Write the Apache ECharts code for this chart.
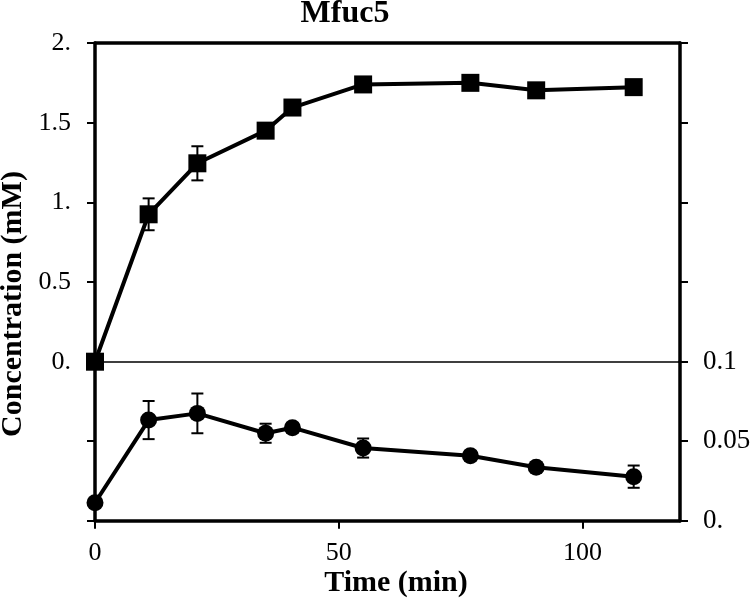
<!DOCTYPE html>
<html>
<head>
<meta charset="utf-8">
<script src="https://cdn.jsdelivr.net/npm/echarts@6/dist/echarts.min.js"></script>
<style>html,body{margin:0;padding:0;background:#fff;}#c{width:751px;height:601px;}</style>
</head>
<body>
<div id="c"></div>
<script>
const timeMin = [0, 11, 21, 35, 40.5, 55, 77, 90.5, 110.5];
const upperValues = [0, 0.925, 1.245, 1.45, 1.595, 1.74, 1.75, 1.703, 1.723];
const upperErrors = [0, 0.1, 0.107, 0.02, 0.02, 0.02, 0.02, 0.03, 0.02];
const lowerValues = [0.0113, 0.0633, 0.0675, 0.055, 0.0585, 0.0457, 0.0409, 0.0336, 0.0277];
const lowerErrors = [0, 0.012, 0.0125, 0.006, 0.003, 0.006, 0.003, 0.003, 0.007];
const upperTickLabels = ['0.', '0.5', '1.', '1.5', '2.'];
const lowerTickLabels = ['0.', '0.05', '0.1'];
const xTickValues = [0, 50, 100];
const xTickLabels = ['0', '50', '100'];

const FONT = 'Liberation Serif';
const TICK_FS = 26;
const NAME_FS = 30;

const chart = echarts.init(document.getElementById('c'), null, {renderer: 'canvas'});

function errRender(params, api) {
  const x = api.value(0), y = api.value(1), e = api.value(2);
  if (!e) return null;
  const hi = api.coord([x, y + e]);
  const lo = api.coord([x, y - e]);
  const cap = 6;
  const st = {stroke: '#000', lineWidth: 2};
  return {
    type: 'group',
    children: [
      {type: 'line', shape: {x1: hi[0], y1: hi[1], x2: lo[0], y2: lo[1]}, style: st},
      {type: 'line', shape: {x1: hi[0] - cap, y1: hi[1], x2: hi[0] + cap, y2: hi[1]}, style: st},
      {type: 'line', shape: {x1: lo[0] - cap, y1: lo[1], x2: lo[0] + cap, y2: lo[1]}, style: st}
    ]
  };
}

function thickLine() { return {show: true, onZero: false, lineStyle: {color: '#000', width: 3.5}}; }
function tickOut(extra) { return Object.assign({show: true, inside: false, length: 8, lineStyle: {color: '#000', width: 2}}, extra || {}); }
function labelStyle(extra) { return Object.assign({color: '#000', fontFamily: FONT, fontSize: TICK_FS}, extra || {}); }

const upperPts = timeMin.map((t, i) => [t, upperValues[i], upperErrors[i]]);
const lowerPts = timeMin.map((t, i) => [t, lowerValues[i], lowerErrors[i]]);

function textStyle(txt, size) {
  return {text: txt, fill: '#000', fontFamily: FONT, fontWeight: 'bold', fontSize: size,
    textAlign: 'center', textVerticalAlign: 'middle'};
}

const option = {
  backgroundColor: '#fff',
  animation: false,
  grid: [
    {left: 95, top: 43, width: 585, height: 318.7, containLabel: false, outerBoundsMode: 'none'},
    {left: 95, top: 361.7, width: 585, height: 159, containLabel: false, outerBoundsMode: 'none'}
  ],
  xAxis: [
    {gridIndex: 0, type: 'value', min: 0, max: 120, position: 'bottom',
     axisLine: {show: true, onZero: false, lineStyle: {color: '#000', width: 1.5}},
     axisTick: {show: false}, axisLabel: {show: false}, splitLine: {show: false}},
    {gridIndex: 0, type: 'value', min: 0, max: 120, position: 'top',
     axisLine: thickLine(), axisTick: {show: false}, axisLabel: {show: false}, splitLine: {show: false}},
    {gridIndex: 1, type: 'value', min: 0, max: 120, interval: 50, position: 'bottom',
     axisLine: thickLine(),
     axisTick: tickOut({customValues: xTickValues}),
     axisLabel: labelStyle({customValues: xTickValues, margin: 19,
       formatter: v => xTickLabels[xTickValues.indexOf(v)]}),
     splitLine: {show: false}}
  ],
  yAxis: [
    {gridIndex: 0, type: 'value', min: 0, max: 2, interval: 0.5, position: 'left',
     axisLine: thickLine(), axisTick: tickOut(),
     axisLabel: labelStyle({margin: 24, formatter: v => upperTickLabels[Math.round(v / 0.5)]}),
     splitLine: {show: false}},
    {gridIndex: 0, type: 'value', min: 0, max: 2, interval: 0.5, position: 'right',
     axisLine: thickLine(), axisTick: tickOut(), axisLabel: {show: false}, splitLine: {show: false}},
    {gridIndex: 1, type: 'value', min: 0, max: 0.1, interval: 0.05, position: 'left',
     axisLine: thickLine(), axisTick: tickOut(), axisLabel: {show: false}, splitLine: {show: false}},
    {gridIndex: 1, type: 'value', min: 0, max: 0.1, interval: 0.05, position: 'right',
     axisLine: thickLine(), axisTick: tickOut(),
     axisLabel: labelStyle({margin: 23, fontSize: 27,
       formatter: v => lowerTickLabels[Math.round(v / 0.05)]}),
     splitLine: {show: false}}
  ],
  series: [
    {type: 'custom', xAxisIndex: 0, yAxisIndex: 0, renderItem: errRender, data: upperPts, z: 2, clip: false},
    {type: 'line', xAxisIndex: 0, yAxisIndex: 0, data: upperPts.map(p => [p[0], p[1]]),
     symbol: 'rect', symbolSize: 18, showAllSymbol: true, clip: false, z: 3,
     lineStyle: {color: '#000', width: 4}, itemStyle: {color: '#000'}},
    {type: 'custom', xAxisIndex: 2, yAxisIndex: 2, renderItem: errRender, data: lowerPts, z: 2, clip: false},
    {type: 'line', xAxisIndex: 2, yAxisIndex: 2, data: lowerPts.map(p => [p[0], p[1]]),
     symbol: 'circle', symbolSize: 17, showAllSymbol: true, clip: false, z: 3,
     lineStyle: {color: '#000', width: 4}, itemStyle: {color: '#000'}}
  ],
  graphic: [
    {type: 'text', x: 345, y: 14, style: textStyle('Mfuc5', 32)},
    {type: 'text', x: 396, y: 583, style: textStyle('Time (min)', NAME_FS)},
    {type: 'text', x: 13, y: 304, rotation: Math.PI / 2, style: textStyle('Concentration (mM)', NAME_FS)}
  ]
};
chart.setOption(option);
</script>
</body>
</html>
